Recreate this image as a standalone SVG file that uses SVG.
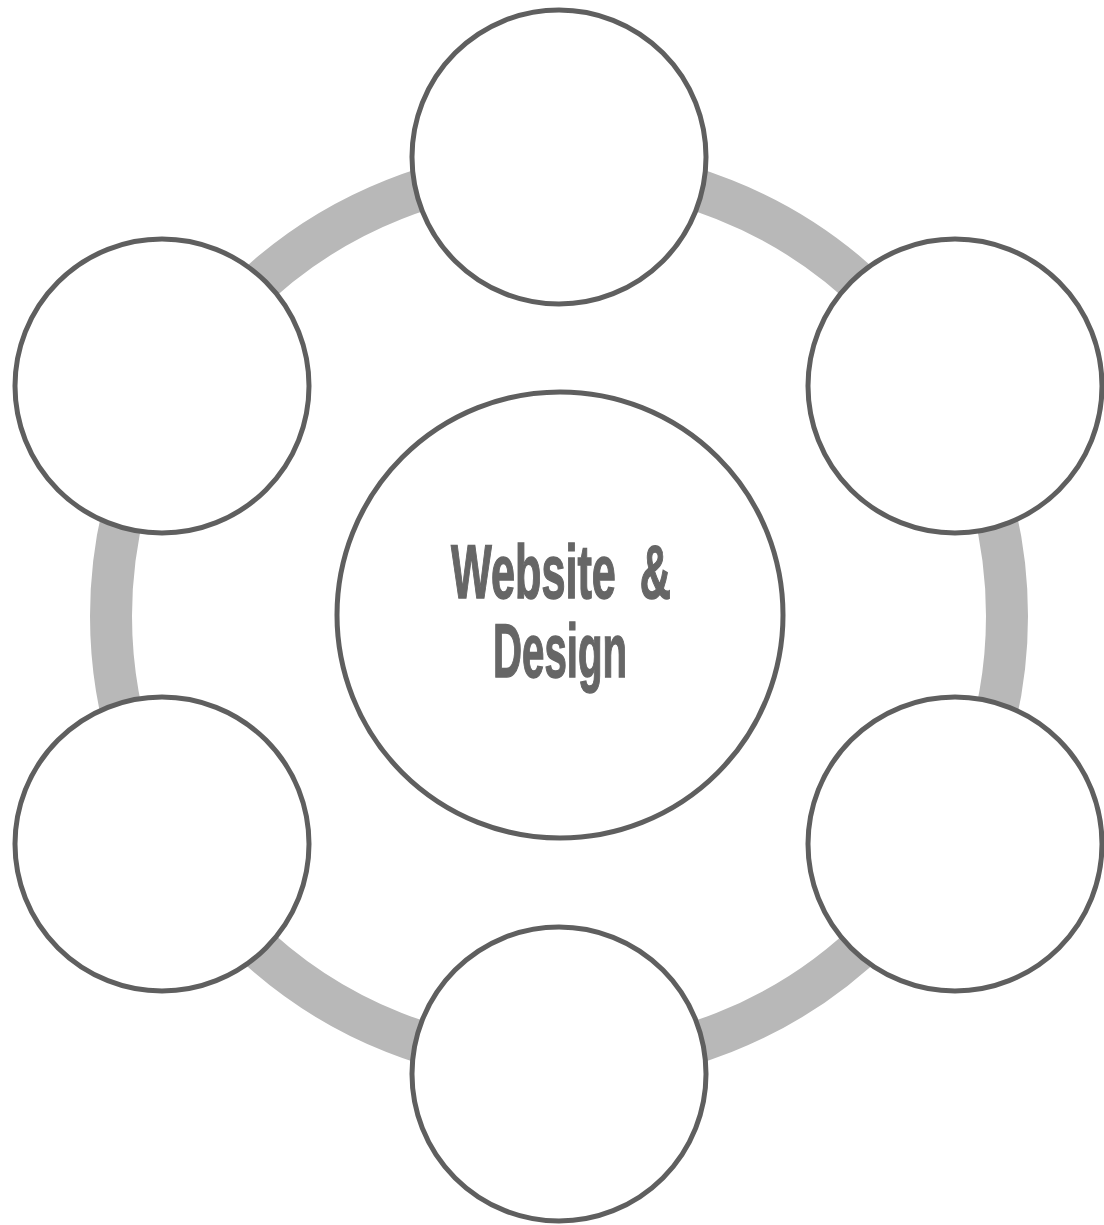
<svg xmlns="http://www.w3.org/2000/svg" width="1104" height="1225" viewBox="0 0 1104 1225">
<style>
.node{fill:#ffffff;stroke:#5f5f5f;stroke-width:5}
.ring{fill:none;stroke:#b8b8b8;stroke-width:42}
.lbl{font-family:"Liberation Sans",Arial,sans-serif;font-weight:bold;fill:#666666;stroke:#666666;stroke-width:1.5;font-size:76px}
</style>
<rect width="1104" height="1225" fill="#ffffff"/>
<g id="connectors">
<circle class="ring" cx="559" cy="616" r="448"/>
</g>
<g id="node-top"><circle class="node" cx="559" cy="157" r="147"/></g>
<g id="node-upper-left"><circle class="node" cx="162" cy="386" r="147"/></g>
<g id="node-upper-right"><circle class="node" cx="955" cy="386" r="147"/></g>
<g id="node-lower-left"><circle class="node" cx="162" cy="844" r="147"/></g>
<g id="node-lower-right"><circle class="node" cx="955" cy="844" r="147"/></g>
<g id="node-bottom"><circle class="node" cx="559" cy="1074" r="147"/></g>
<g id="node-center">
<circle class="node" cx="560" cy="615" r="223"/>
<text class="lbl" x="451" y="598" textLength="220" lengthAdjust="spacingAndGlyphs" xml:space="preserve">Website  &amp;</text>
<text class="lbl" x="493" y="677" textLength="134" lengthAdjust="spacingAndGlyphs">Design</text>
</g>
</svg>
